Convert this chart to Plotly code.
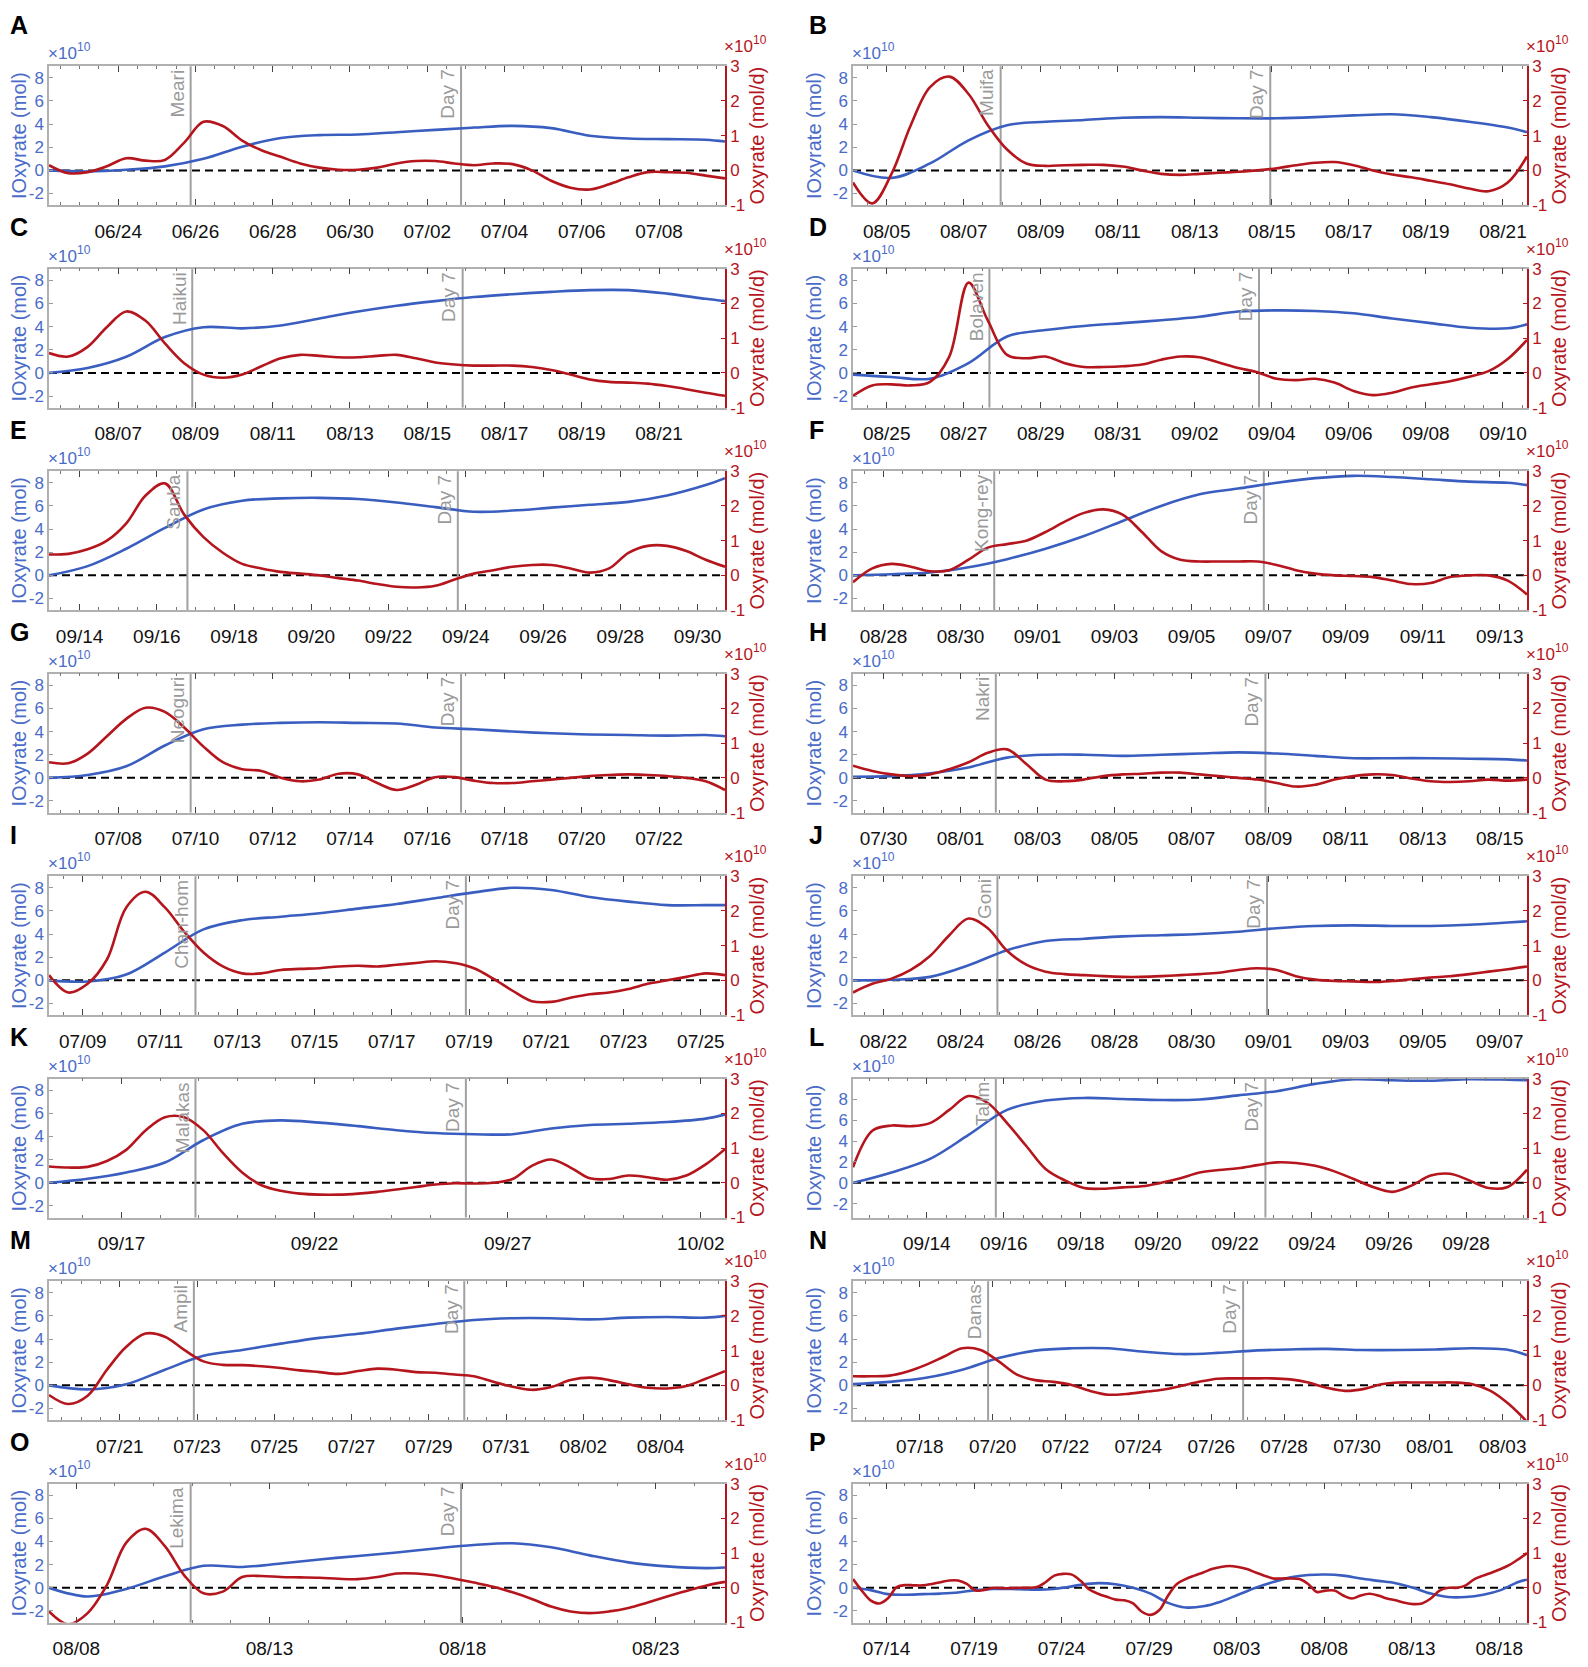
import numpy as np
import pandas as pd
import plotly.graph_objects as go

# page is 1588x1667; the html body adds an 8px margin round the figure
PAGE_OFF = 8
W, H = 1588 - 2 * PAGE_OFF, 1667 - 2 * PAGE_OFF
BLUE = '#3A5EC0'
BLUE_TXT = '#4A6CC8'
RED = '#B5161D'
GRAY = '#A0A0A0'
FONT = 'Arial, Liberation Sans, sans-serif'
DAY_MS = 86400000

letters = list('ABCDEFGHIJKLMNOP')
starts = ['2011-06-22 05:00', '2011-08-04 03:00', '2012-08-05 05:00', '2012-08-24 03:00',
          '2012-09-13 05:00', '2013-08-27 05:00', '2014-07-06 05:00', '2014-07-29 05:00',
          '2015-07-08 03:00', '2015-08-21 05:00', '2016-09-15 03:00', '2017-09-12 02:00',
          '2018-07-19 04:00', '2019-07-16 04:00', '2019-08-07 07:00', '2019-07-12 02:00']
spans = [17.5, 17.5, 17.5, 17.5, 17.5, 17.5, 17.5, 17.5,
         17.5, 17.5, 17.5, 17.5, 17.5, 18.5, 17.5, 38.5]
storms = ['Meari', 'Muifa', 'Haikui', 'Bolaven', 'Sanba', 'Kong-rey', 'Neoguri', 'Nakri',
          'Chan-hom', 'Goni', 'Malakas', 'Talim', 'Ampil', 'Danas', 'Lekima', None]
storm_times = ['2011-06-25 21:00', '2011-08-07 23:00', '2012-08-08 22:00', '2012-08-27 16:00',
               '2012-09-16 19:00', '2013-08-30 21:00', '2014-07-09 21:00', '2014-08-01 22:00',
               '2015-07-11 22:00', '2015-08-24 23:00', '2016-09-18 22:00', '2017-09-15 19:00',
               '2018-07-22 22:00', '2019-07-19 21:00', '2019-08-10 23:00', None]
day7_times = ['2011-07-02 21:00', '2011-08-14 23:00', '2012-08-15 22:00', '2012-09-03 16:00',
              '2012-09-23 19:00', '2013-09-06 21:00', '2014-07-16 21:00', '2014-08-08 22:00',
              '2015-07-18 22:00', '2015-08-31 23:00', '2016-09-25 22:00', '2017-09-22 19:00',
              '2018-07-29 22:00', '2019-07-26 21:00', '2019-08-17 23:00', None]
tick0s = ['2011-06-24', '2011-08-05', '2012-08-07', '2012-08-25', '2012-09-14', '2013-08-28',
          '2014-07-08', '2014-07-30', '2015-07-09', '2015-08-22', '2016-09-17', '2017-09-14',
          '2018-07-21', '2019-07-18', '2019-08-08', '2019-07-14']
tick_days = [2, 2, 2, 2, 2, 2, 2, 2, 2, 2, 5, 2, 2, 2, 5, 5]
minor_days = [0.5, 0.5, 0.5, 0.5, 0.5, 0.5, 0.5, 0.5, 0.5, 0.5, 1, 0.5, 0.5, 0.5, 1, 1]
left_tops = [9, 9, 9, 9, 9, 9, 9, 9, 9, 9, 9, 10, 9, 9, 9, 9]

# IOxyrate (x1e10 mol), daily; Oxyrate (x1e10 mol/d), half-daily
a_blue = [0.0, -0.1, 0.05, 0.35, 1.0, 2.05, 2.8, 3.05, 3.1, 3.3, 3.5, 3.7, 3.85, 3.65, 3.0, 2.75, 2.7, 2.65, 2.5]
a_red = [0.15, -0.08, -0.05, 0.12, 0.35, 0.28, 0.3, 0.8, 1.4, 1.28, 0.86, 0.58, 0.39, 0.2, 0.08, 0.02, 0.02, 0.08,
         0.2, 0.27, 0.27, 0.2, 0.15, 0.2, 0.18, 0.0, -0.3, -0.5, -0.55, -0.4, -0.2, -0.05, -0.05, -0.07, -0.15, -0.23]
b_blue = [0.0, -0.65, 0.6, 2.6, 3.9, 4.2, 4.35, 4.55, 4.6, 4.55, 4.5, 4.5, 4.6, 4.75, 4.85, 4.6, 4.2, 3.7, 3.3]
b_red = [-0.35, -0.95, -0.1, 1.3, 2.4, 2.7, 2.2, 1.3, 0.6, 0.2, 0.13, 0.15, 0.16, 0.16, 0.11, 0.0, -0.1, -0.13,
         -0.1, -0.07, -0.04, 0.0, 0.06, 0.15, 0.22, 0.24, 0.15, 0.0, -0.12, -0.2, -0.3, -0.4, -0.52, -0.6, -0.35, 0.4]
c_blue = [0.0, 0.43, 1.4, 3.1, 3.95, 3.85, 4.1, 4.7, 5.3, 5.8, 6.2, 6.55, 6.8, 7.0, 7.15, 7.15, 6.85, 6.4, 6.2]
c_red = [0.57, 0.47, 0.75, 1.32, 1.77, 1.5, 0.85, 0.28, -0.05, -0.14, -0.05, 0.19, 0.42, 0.52, 0.49, 0.45, 0.45, 0.49,
         0.52, 0.42, 0.3, 0.24, 0.21, 0.21, 0.21, 0.17, 0.08, -0.05, -0.19, -0.26, -0.28, -0.31, -0.38, -0.47, -0.57, -0.66]
d_blue = [-0.15, -0.35, -0.5, 0.85, 3.15, 3.7, 4.05, 4.3, 4.55, 4.85, 5.3, 5.4, 5.35, 5.15, 4.7, 4.3, 3.9, 3.85, 4.2]
d_red = [-0.66, -0.36, -0.33, -0.36, -0.26, 0.47, 2.6, 1.51, 0.52, 0.42, 0.47, 0.28, 0.17, 0.17, 0.19, 0.24, 0.38, 0.47,
         0.45, 0.3, 0.14, 0.02, -0.17, -0.21, -0.17, -0.28, -0.52, -0.64, -0.57, -0.42, -0.33, -0.24, -0.11, 0.05, 0.4, 0.95]
e_blue = [0.0, 0.8, 2.3, 4.1, 5.7, 6.45, 6.65, 6.7, 6.6, 6.3, 5.9, 5.5, 5.6, 5.85, 6.1, 6.35, 6.9, 7.8, 8.4]
e_red = [0.6, 0.62, 0.75, 1.0, 1.5, 2.3, 2.65, 1.75, 1.1, 0.65, 0.33, 0.2, 0.1, 0.05, 0.0, -0.08, -0.15, -0.25,
         -0.33, -0.35, -0.3, -0.12, 0.05, 0.15, 0.25, 0.3, 0.3, 0.2, 0.08, 0.2, 0.65, 0.85, 0.85, 0.7, 0.45, 0.25]
f_blue = [0.0, 0.1, 0.25, 0.7, 1.4, 2.3, 3.4, 4.7, 6.0, 7.0, 7.5, 8.0, 8.4, 8.6, 8.5, 8.3, 8.1, 8.0, 7.8]
f_red = [-0.2, 0.2, 0.33, 0.25, 0.12, 0.15, 0.45, 0.8, 0.9, 1.0, 1.25, 1.55, 1.8, 1.9, 1.75, 1.25, 0.7, 0.45,
         0.4, 0.4, 0.4, 0.4, 0.3, 0.15, 0.05, 0.0, -0.02, -0.05, -0.15, -0.25, -0.22, -0.05, 0.0, 0.0, -0.15, -0.55]
g_blue = [0.0, 0.25, 1.0, 2.8, 4.2, 4.6, 4.75, 4.8, 4.75, 4.7, 4.35, 4.2, 4.0, 3.85, 3.75, 3.7, 3.65, 3.7, 3.6]
g_red = [0.45, 0.42, 0.7, 1.2, 1.7, 2.02, 1.9, 1.45, 0.9, 0.45, 0.25, 0.2, 0.0, -0.1, -0.05, 0.12, 0.1, -0.15,
         -0.35, -0.2, 0.02, 0.02, -0.08, -0.15, -0.15, -0.1, -0.05, 0.0, 0.05, 0.08, 0.1, 0.08, 0.05, 0.0, -0.1, -0.35]
h_blue = [0.1, 0.15, 0.4, 0.9, 1.75, 2.0, 2.0, 1.9, 2.0, 2.1, 2.2, 2.1, 1.9, 1.7, 1.7, 1.7, 1.65, 1.6, 1.5]
h_red = [0.35, 0.2, 0.1, 0.05, 0.1, 0.25, 0.45, 0.72, 0.82, 0.4, -0.05, -0.1, -0.05, 0.05, 0.1, 0.12, 0.15, 0.15,
         0.1, 0.05, 0.0, -0.05, -0.15, -0.25, -0.2, -0.05, 0.05, 0.1, 0.08, -0.02, -0.1, -0.12, -0.1, -0.05, -0.08, -0.05]
i_blue = [0.0, -0.1, 0.5, 2.4, 4.4, 5.2, 5.5, 5.8, 6.2, 6.6, 7.1, 7.6, 8.0, 7.8, 7.2, 6.8, 6.5, 6.5, 6.5]
i_red = [0.15, -0.35, -0.1, 0.6, 2.1, 2.55, 2.1, 1.4, 0.8, 0.4, 0.2, 0.2, 0.3, 0.33, 0.35, 0.4, 0.42, 0.4,
         0.45, 0.5, 0.55, 0.5, 0.35, 0.05, -0.3, -0.6, -0.62, -0.5, -0.4, -0.35, -0.25, -0.1, 0.0, 0.1, 0.2, 0.15]
j_blue = [0.0, 0.05, 0.3, 1.3, 2.6, 3.4, 3.6, 3.8, 3.9, 4.0, 4.2, 4.5, 4.7, 4.75, 4.7, 4.7, 4.8, 5.0, 5.1]
j_red = [-0.35, -0.1, 0.05, 0.3, 0.7, 1.3, 1.78, 1.5, 0.85, 0.45, 0.25, 0.18, 0.15, 0.12, 0.1, 0.1, 0.12, 0.15,
         0.18, 0.22, 0.3, 0.35, 0.3, 0.12, 0.02, -0.02, -0.03, -0.05, -0.02, 0.03, 0.08, 0.12, 0.18, 0.25, 0.32, 0.4]
k_blue = [0.0, 0.35, 0.9, 1.75, 3.7, 5.1, 5.4, 5.2, 4.9, 4.55, 4.3, 4.2, 4.2, 4.7, 5.0, 5.1, 5.25, 5.55, 5.9]
k_red = [0.47, 0.44, 0.46, 0.63, 0.95, 1.51, 1.89, 1.89, 1.51, 0.86, 0.3, -0.07, -0.23, -0.31, -0.34, -0.34, -0.31, -0.26,
         -0.19, -0.12, -0.05, -0.01, -0.02, 0.0, 0.11, 0.49, 0.67, 0.44, 0.13, 0.11, 0.21, 0.16, 0.09, 0.21, 0.53, 0.97]
l_blue = [0.0, 1.0, 2.3, 4.6, 7.0, 7.9, 8.15, 8.05, 7.95, 8.0, 8.4, 8.8, 9.5, 9.95, 9.85, 9.8, 9.95, 9.9, 9.85]
l_red = [0.45, 1.5, 1.65, 1.63, 1.72, 2.1, 2.5, 2.3, 1.72, 1.06, 0.4, 0.07, -0.15, -0.17, -0.13, -0.1, 0.0, 0.13,
         0.3, 0.37, 0.42, 0.51, 0.59, 0.57, 0.49, 0.33, 0.11, -0.12, -0.26, -0.08, 0.21, 0.26, 0.07, -0.15, -0.12, 0.38]
m_blue = [0.0, -0.35, 0.1, 1.35, 2.55, 3.05, 3.6, 4.1, 4.45, 4.9, 5.3, 5.65, 5.8, 5.8, 5.7, 5.85, 5.9, 5.85, 6.0]
m_red = [-0.28, -0.54, -0.3, 0.45, 1.11, 1.49, 1.4, 1.02, 0.69, 0.59, 0.58, 0.55, 0.5, 0.43, 0.38, 0.33, 0.41, 0.48,
         0.45, 0.38, 0.36, 0.31, 0.26, 0.1, -0.04, -0.13, -0.05, 0.15, 0.22, 0.15, 0.03, -0.07, -0.09, -0.02, 0.19, 0.41]
n_blue = [0.1, 0.3, 0.65, 1.35, 2.35, 3.0, 3.2, 3.2, 2.9, 2.7, 2.8, 3.0, 3.1, 3.15, 3.05, 3.05, 3.1, 3.2, 3.05, 2.6]
n_red = [0.26, 0.26, 0.28, 0.4, 0.59, 0.83, 1.07, 1.02, 0.69, 0.31, 0.15, 0.1, 0.01, -0.16, -0.27, -0.25, -0.19, -0.13,
         -0.02, 0.1, 0.19, 0.2, 0.2, 0.2, 0.17, 0.08, -0.07, -0.16, -0.11, 0.03, 0.08, 0.08, 0.08, 0.08, 0.03, -0.16,
         -0.54, -1.05]
o_blue = [0.0, -0.75, -0.1, 1.0, 1.9, 1.8, 2.1, 2.45, 2.75, 3.05, 3.4, 3.7, 3.85, 3.5, 2.8, 2.2, 1.85, 1.7, 1.75]
o_red = [-0.68, -1.05, -0.73, 0.08, 1.3, 1.7, 1.2, 0.36, -0.16, -0.11, 0.31, 0.34, 0.31, 0.3, 0.29, 0.26, 0.25, 0.31,
         0.41, 0.41, 0.36, 0.26, 0.15, 0.03, -0.13, -0.32, -0.54, -0.68, -0.73, -0.68, -0.58, -0.42, -0.25, -0.09, 0.06, 0.17]
p_blue = [0.0, -0.2, -0.55, -0.6, -0.55, -0.5, -0.4, -0.2, -0.1, -0.1, -0.15, -0.15, 0.0, 0.25, 0.4, 0.3, 0.0, -0.5,
          -1.3, -1.7, -1.6, -1.2, -0.6, 0.0, 0.5, 0.9, 1.1, 1.15, 1.05, 0.8, 0.6, 0.4, 0.0, -0.5, -0.8, -0.8, -0.6,
          -0.2, 0.5, 0.7]
p_red = [0.25, -0.08, -0.36, -0.45, -0.3, 0.02, 0.08, 0.07, 0.07, 0.11,
         0.16, 0.21, 0.21, 0.11, -0.08, -0.06, 0.0, -0.01, -0.01, 0.0,
         0.0, 0.02, 0.16, 0.35, 0.4, 0.38, 0.2, -0.05, -0.17, -0.26,
         -0.34, -0.36, -0.45, -0.69, -0.78, -0.64, -0.22, 0.11, 0.25, 0.35,
         0.44, 0.54, 0.6, 0.63, 0.6, 0.54, 0.44, 0.35, 0.27, 0.27,
         0.27, 0.25, 0.11, -0.12, -0.08, -0.08, -0.22, -0.31, -0.22, -0.17,
         -0.22, -0.31, -0.36, -0.43, -0.47, -0.45, -0.31, -0.08, 0.0, 0.0,
         0.07, 0.25, 0.35, 0.44, 0.54, 0.66, 0.82, 1.0]

blues = [a_blue, b_blue, c_blue, d_blue, e_blue, f_blue, g_blue, h_blue,
         i_blue, j_blue, k_blue, l_blue, m_blue, n_blue, o_blue, p_blue]
reds = [a_red, b_red, c_red, d_red, e_red, f_red, g_red, h_red,
        i_red, j_red, k_red, l_red, m_red, n_red, o_red, p_red]

# panel frames, in page pixels
col_px = [(49, 725), (853, 1527)]
letter_px = [0, 799]
row_top0, row_step, plot_h = 58, 205.6, 141


def sample_times(start, span, step, n):
    offs = np.append(np.arange(0, span, step), span)
    if len(offs) != n:
        offs = np.linspace(0, span, n)
    return pd.Timestamp(start) + pd.to_timedelta(offs, unit='D')


def times10(x, xref, yref, y, color, xshift, yshift):
    # "x10" with a raised small "10"
    return [dict(text='×10', xref=xref, yref=yref, x=x, y=y, xanchor='left', yanchor='bottom',
                 xshift=xshift, yshift=yshift, showarrow=False, font=dict(size=17, color=color)),
            dict(text='10', xref=xref, yref=yref, x=x, y=y, xanchor='left', yanchor='bottom',
                 xshift=xshift + 29, yshift=yshift + 9, showarrow=False, font=dict(size=12, color=color))]


fig = go.Figure()
layout = {}
shapes = []
annos = []

for k in range(16):
    r, c = divmod(k, 2)
    xn, yl, yr = k + 1, 2 * k + 1, 2 * k + 2
    xs = 'x' if xn == 1 else 'x%d' % xn
    yls = 'y' if yl == 1 else 'y%d' % yl
    yrs = 'y%d' % yr
    x0, x1 = (p - PAGE_OFF for p in col_px[c])
    top = row_top0 + row_step * r - PAGE_OFF
    xdom = [x0 / W, x1 / W]
    ydom = [1 - (top + plot_h) / H, 1 - top / H]
    start = pd.Timestamp(starts[k])
    end = start + pd.Timedelta(days=spans[k])

    fig.add_trace(go.Scatter(x=sample_times(starts[k], spans[k], 1.0, len(blues[k])), y=blues[k],
                             xaxis=xs, yaxis=yls, mode='lines', hoverinfo='skip',
                             line=dict(color=BLUE, width=2.6, shape='spline')))
    fig.add_trace(go.Scatter(x=sample_times(starts[k], spans[k], 0.5, len(reds[k])), y=reds[k],
                             xaxis=xs, yaxis=yrs, mode='lines', hoverinfo='skip',
                             line=dict(color=RED, width=2.6, shape='spline')))

    layout['xaxis' + ('' if xn == 1 else str(xn))] = dict(
        domain=xdom, anchor=yls, type='date', range=[start, end],
        tickformat='%m/%d', tick0=tick0s[k], dtick=tick_days[k] * DAY_MS,
        ticks='inside', ticklen=6, tickcolor='#444', ticklabelstandoff=8,
        minor=dict(ticks='inside', ticklen=3, tickcolor='#777',
                   dtick=minor_days[k] * DAY_MS, tick0=tick0s[k]),
        showline=True, linecolor='#B0B0B0', linewidth=1.5, mirror='ticks',
        showgrid=False, zeroline=False, tickfont=dict(size=19, color='#111'))

    lt = left_tops[k]
    layout['yaxis' + ('' if yl == 1 else str(yl))] = dict(
        domain=ydom, anchor=xs, range=[-lt / 3, lt],
        tickvals=[-2, 0, 2, 4, 6, 8], ticktext=['-2', '0', '2', '4', '6', '8'],
        ticks='inside', ticklen=4, tickcolor='#9A9A9A',
        showline=True, linecolor='#B0B0B0', linewidth=1.5,
        showgrid=False, zeroline=False, tickfont=dict(size=17, color=BLUE_TXT),
        title=dict(text='IOxyrate (mol)', font=dict(size=20, color=BLUE_TXT), standoff=6))
    layout['yaxis%d' % yr] = dict(
        domain=ydom, anchor=xs, overlaying=yls, side='right', range=[-1, 3],
        tickvals=[-1, 0, 1, 2, 3], ticktext=['-1', '0', '1', '2', '3'],
        ticks='inside', ticklen=4, tickcolor=RED,
        showline=True, linecolor=RED, linewidth=1.5,
        showgrid=False, zeroline=False, tickfont=dict(size=17, color=RED),
        title=dict(text='Oxyrate (mol/d)', font=dict(size=20, color=RED), standoff=6))

    shapes.append(dict(type='line', xref=xs + ' domain', x0=0, x1=1, yref=yls, y0=0, y1=0,
                       line=dict(color='black', width=2, dash='8px,5px'), layer='below'))
    if storms[k]:
        for t, label in [(storm_times[k], storms[k]), (day7_times[k], 'Day 7')]:
            shapes.append(dict(type='line', xref=xs, x0=t, x1=t, yref=yls + ' domain', y0=0, y1=1,
                               line=dict(color=GRAY, width=2), layer='below'))
            annos.append(dict(text=label, xref=xs, x=t, yref=yls + ' domain', y=1,
                              xanchor='right', yanchor='top', textangle=-90, showarrow=False,
                              xshift=-1, yshift=-1, font=dict(size=19, color='#9A9A9A')))

    annos.append(dict(text='<b>%s</b>' % letters[k], xref='paper', yref='paper',
                      x=letter_px[c] / W, y=1 - (top - 42) / H,
                      xanchor='left', yanchor='middle', showarrow=False,
                      font=dict(size=25, color='black')))
    annos += times10(x0 / W, 'paper', 'paper', ydom[1], BLUE_TXT, -3, 1)
    annos += times10(x1 / W, 'paper', 'paper', ydom[1], RED, -3, 8)

fig.update_layout(
    width=W, height=H, margin=dict(l=0, r=0, t=0, b=0),
    paper_bgcolor='white', plot_bgcolor='white', showlegend=False,
    font=dict(family=FONT), shapes=shapes, annotations=annos, **layout)

fig.write_html('out.html')
